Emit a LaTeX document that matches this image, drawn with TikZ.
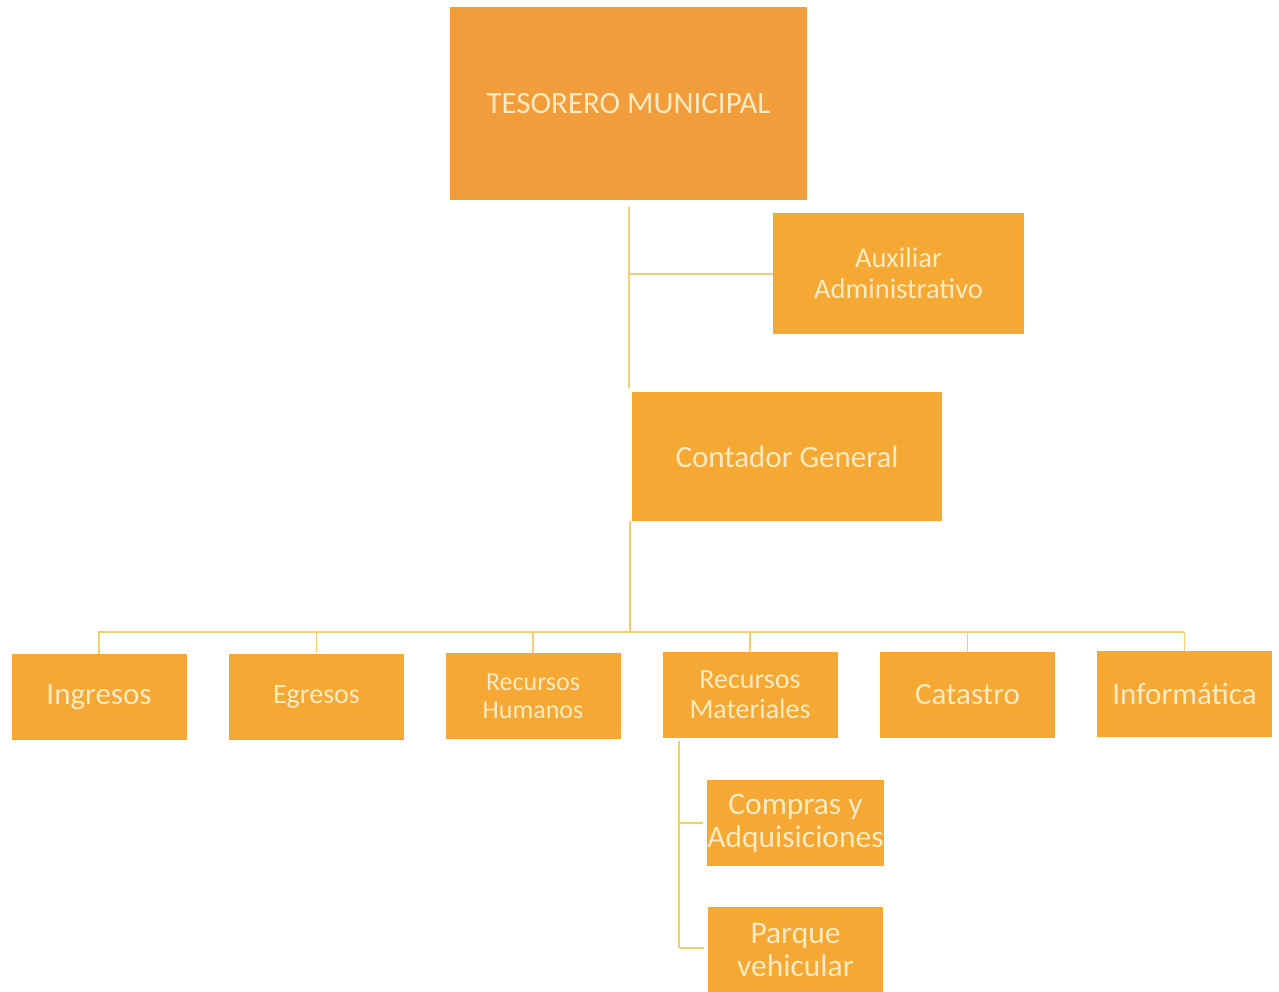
\documentclass[tikz,border=0pt]{standalone}
\usepackage{fontspec}
\setmainfont{Carlito}
\definecolor{topbox}{HTML}{F29D3C}
\definecolor{boxfill}{HTML}{F5A934}
\definecolor{linkc}{HTML}{F6CD72}
\definecolor{txt}{HTML}{FCEBC2}
\begin{document}
\begin{tikzpicture}[x=1pt,y=-1pt,
  orgbox/.style={fill=boxfill, draw=none, inner sep=0pt, align=center, text=txt},
  link/.style={draw=linkc, line width=1.8pt}]
\useasboundingbox[fill=white] (0,0) rectangle (1279,991);
% boxes
\node[orgbox, fill=topbox, minimum width=357pt, minimum height=193pt,
  font=\fontsize{31}{36}\selectfont] (tes) at (628.5,103.5) {TESORERO MUNICIPAL};
\node[orgbox, minimum width=251pt, minimum height=121pt,
  font=\fontsize{28.5}{31}\selectfont] (aux) at (898.5,273.5) {Auxiliar\\Administrativo};
\node[orgbox, minimum width=310pt, minimum height=129pt,
  font=\fontsize{31}{36}\selectfont] (con) at (787,456.5) {Contador General};
\tikzset{rowbox/.style={orgbox, minimum width=175pt, minimum height=86pt}}
\node[rowbox, font=\fontsize{31}{36}\selectfont] (ing) at (99,697) {Ingresos};
\node[rowbox, font=\fontsize{28}{33}\selectfont] (egr) at (316.5,696.5) {Egresos};
\node[rowbox, font=\fontsize{26}{28}\selectfont] (rh) at (533,696) {Recursos\\Humanos};
\node[rowbox, font=\fontsize{28}{30}\selectfont] (rm) at (750,695) {Recursos\\Materiales};
\node[rowbox, font=\fontsize{31}{36}\selectfont] (cat) at (967.5,695) {Catastro};
\node[rowbox, font=\fontsize{31}{36}\selectfont] (inf) at (1184.5,694) {Informática};
\node[orgbox, minimum width=175pt, minimum height=86pt,
  font=\fontsize{31.5}{33}\selectfont] (com) at (795.5,823) {Compras y\\Adquisiciones};
\node[orgbox, minimum width=175pt, minimum height=86pt,
  font=\fontsize{31.5}{33}\selectfont] (par) at (795.5,950) {Parque\\vehicular};
% connectors
\coordinate (t0) at (629,207);
\coordinate (t1) at (629,388);
\coordinate (ta) at (629,274);
\draw[link] (t0) -- (t1);
\draw[link] (ta) -- (aux.west |- ta);
\coordinate (c0) at (630,521);
\coordinate (bus) at (630,632);
\draw[link] (c0) -- (bus);
\coordinate (bl) at (98,632);
\coordinate (br) at (1184,632);
\draw[link] (bl) -- (br);
\foreach \n in {ing,egr,rh,rm,cat,inf}{
  \draw[link] (\n.north |- bus) -- (\n.north);
}
\coordinate (s0) at (679,741);
\coordinate (s1) at (679,948);
\draw[link] (s0) -- (s1);
\draw[link] (s0 |- com.west) -- ([xshift=-4pt]com.west);
\draw[link] (s1) -- ([xshift=-4pt]par.west |- s1);
\end{tikzpicture}
\end{document}
